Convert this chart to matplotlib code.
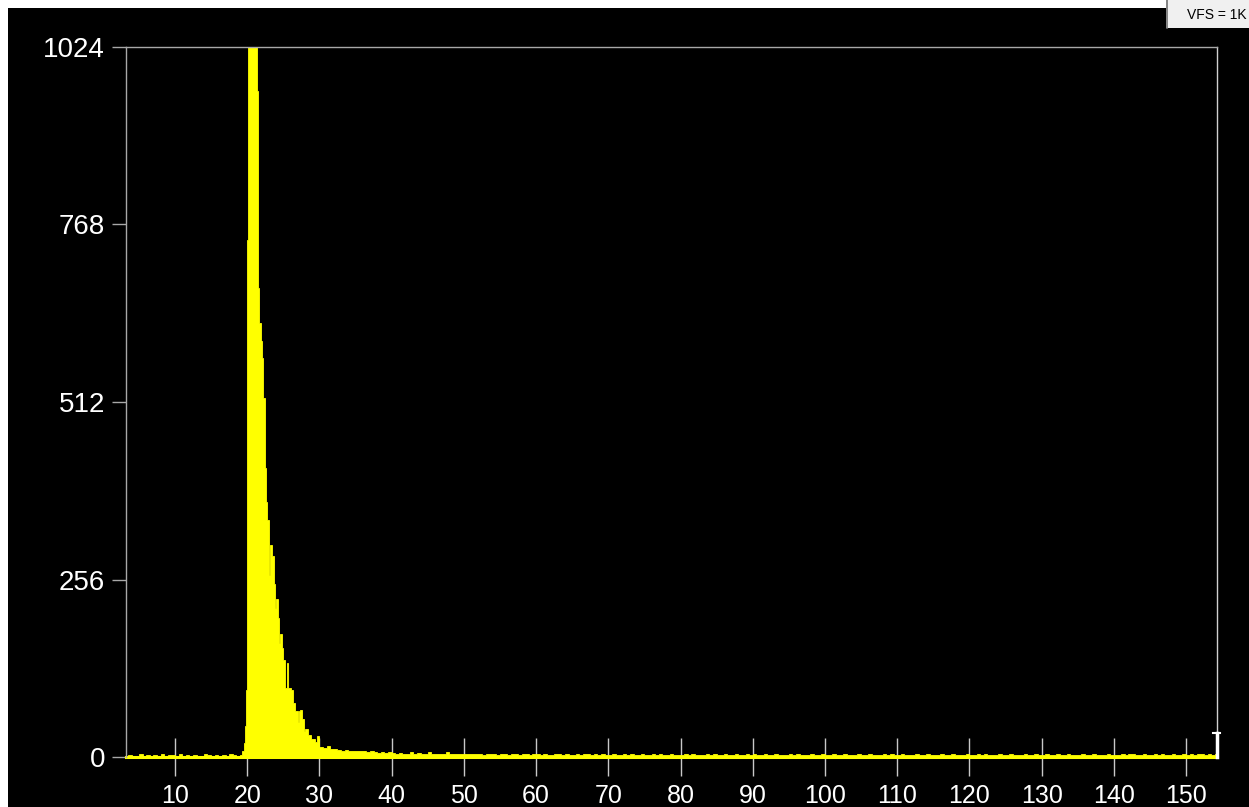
import numpy as np
import matplotlib
matplotlib.use('Agg')
import matplotlib.pyplot as plt
from matplotlib.patches import Rectangle

plt.rcParams['font.family'] = ['Liberation Sans', 'DejaVu Sans']

# noise floor before the peak, 0.5 wide bins starting at 3.0
left_start, left_step = 3.0, 0.5
left_counts = [2, 3, 2, 2, 4, 2, 3, 2, 3, 2, 4, 2, 3, 3, 2, 4,
               2, 3, 2, 3, 2, 2, 4, 3, 2, 3, 2, 3, 2, 4, 3, 2]

# main peak, read bin by bin
peak_edges = [19.0, 19.3, 19.5, 19.7, 19.85, 20.0, 20.15, 21.3, 21.45, 21.56,
              21.7, 21.85, 21.95, 22.05, 22.2, 22.4, 22.6, 22.8, 23.0, 23.1,
              23.4, 23.75, 23.9, 24.05, 24.3, 24.4, 24.5, 24.8, 25.0, 25.3,
              25.45, 25.7, 26.0, 26.4, 26.6, 27.0, 27.15, 27.3, 27.6, 27.8,
              28.0, 28.4, 28.9, 29.4, 29.7, 29.9, 30.5]
peak_counts = [3, 8, 20, 45, 97, 746, 1030, 960, 765, 676,
               626, 584, 600, 575, 518, 417, 368, 342, 262, 306,
               290, 250, 215, 228, 200, 165, 178, 157, 140, 100,
               135, 100, 96, 78, 66, 50, 66, 68, 55, 38,
               40, 32, 26, 22, 31, 14]

# tail after the peak, 0.5 wide bins from 30.5 to 154.5
tail_step = 0.5
tail_counts = [
    13, 16, 12, 11, 10, 9, 10, 9, 8,
    9, 8, 8, 7, 8, 7, 6, 7, 6, 7,
    6, 5, 6, 5, 5, 7, 5, 6, 5, 4, 7, 5, 4, 5, 4, 7, 5, 4, 5, 4,
    5, 4, 4, 5, 4, 3, 5, 4, 4, 3, 5, 4, 3, 4, 5, 3, 4, 4, 3, 4,
    4, 3, 4, 3, 3, 4, 5, 3, 4, 3, 3, 4, 3, 4, 4, 3, 5, 3, 4, 3,
    3, 4, 3, 3, 4, 3, 4, 3, 3, 4, 3, 3, 4, 3, 5, 3, 3, 4, 3, 3,
    3, 4, 3, 4, 3, 3, 3, 4, 3, 4, 3, 3, 5, 3, 3, 4, 3, 3, 4, 3,
    4, 3, 3, 4, 3, 3, 4, 3, 3, 3, 4, 3, 4, 3, 3, 3, 4, 3, 3, 4,
    3, 3, 4, 3, 3, 4, 3, 3, 3, 4, 3, 3, 4, 3, 3, 3, 4, 3, 4, 3,
    3, 4, 3, 3, 3, 4, 3, 3, 4, 3, 3, 3, 4, 3, 3, 4, 3, 3, 3, 4,
    3, 3, 4, 3, 4, 3, 3, 3, 4, 3, 3, 4, 3, 3, 3, 4, 3, 3, 4, 3,
    3, 4, 3, 3, 4, 3, 3, 4, 3, 3, 3, 5, 3, 3, 4, 3, 3, 3, 4, 3,
    3, 3, 4, 3, 4, 5, 3, 3, 4, 3, 3, 4, 3, 4, 3, 3, 4, 3, 3, 4,
    3, 4, 3, 4, 4, 3, 4, 3, 4,
]

x_ticks = list(range(10, 151, 10))
y_ticks = [0, 256, 512, 768, 1024]
x_min, x_max = 3.215, 154.29
vfs_label = 'VFS = 1K'

# build one set of bin edges
left_edges = left_start + left_step * np.arange(len(left_counts) + 1)
tail_edges = peak_edges[-1] + tail_step * np.arange(1, len(tail_counts) + 1)
edges = np.concatenate([left_edges, peak_edges[1:], tail_edges])
counts = np.array(left_counts + peak_counts + tail_counts)

W, H = 1249, 807
fig = plt.figure(figsize=(W / 100, H / 100), dpi=100)
fig.patch.set_facecolor('black')

# white window strips at top and left
fig.add_artist(Rectangle((0, 1 - 8 / H), 1, 8 / H, transform=fig.transFigure,
                         facecolor='white', edgecolor='none'))
fig.add_artist(Rectangle((0, 0), 8 / W, 1, transform=fig.transFigure,
                         facecolor='white', edgecolor='none'))
# the little "VFS" button top right
fig.add_artist(Rectangle((1166 / W, 1 - 28 / H), 83 / W, 28 / H,
                         transform=fig.transFigure, facecolor='#f0f0f0',
                         edgecolor='none'))
fig.add_artist(plt.Line2D([1167 / W, 1167 / W], [1 - 28 / H, 1],
                          transform=fig.transFigure, color='#707070', lw=1.2))
fig.text(1247 / W, 1 - 15 / H, vfs_label, ha='right', va='center',
         fontsize=10, color='black')

ax = fig.add_axes([126 / W, 50 / H, 1091 / W, 710 / H])
ax.set_facecolor('black')

ax.stairs(counts, edges, fill=True, facecolor='#ffff00', edgecolor='#ffff00',
          linewidth=0.6, zorder=2)
# solid yellow floor line like the instrument draws
ax.axhline(0, color='#ffff00', lw=2.2, zorder=2, clip_on=False)

ax.set_xlim(x_min, x_max)
ax.set_ylim(0, 1024)
ax.set_xticks(x_ticks)
ax.set_yticks(y_ticks)
ax.set_xticklabels([str(t) for t in x_ticks])
ax.set_yticklabels([str(t) for t in y_ticks])

ax.tick_params(axis='x', direction='inout', length=27, width=1.0,
               color='#c8c8c8', labelcolor='white', labelsize=18, pad=6)
ax.tick_params(axis='y', direction='out', length=10, width=1.0,
               color='#a8a8a8', labelcolor='white', labelsize=20, pad=5)

for side in ['left', 'top']:
    ax.spines[side].set_color('#a8a8a8')
    ax.spines[side].set_linewidth(1.0)
ax.spines['bottom'].set_visible(False)
ax.spines['right'].set_visible(False)

# right border stops short, with a small cursor bracket below
cut = 24 / 710
ax.plot([1, 1], [cut, 1], transform=ax.transAxes, color='#d0d0d0', lw=1.0,
        clip_on=False)
ax.plot([1 - 4 / 1091, 1 + 3 / 1091], [cut, cut], transform=ax.transAxes,
        color='white', lw=1.5, clip_on=False)
ax.plot([1, 1], [0, cut], transform=ax.transAxes, color='white', lw=2.5,
        clip_on=False)

fig.savefig('out.png', dpi=100, facecolor=fig.get_facecolor())
